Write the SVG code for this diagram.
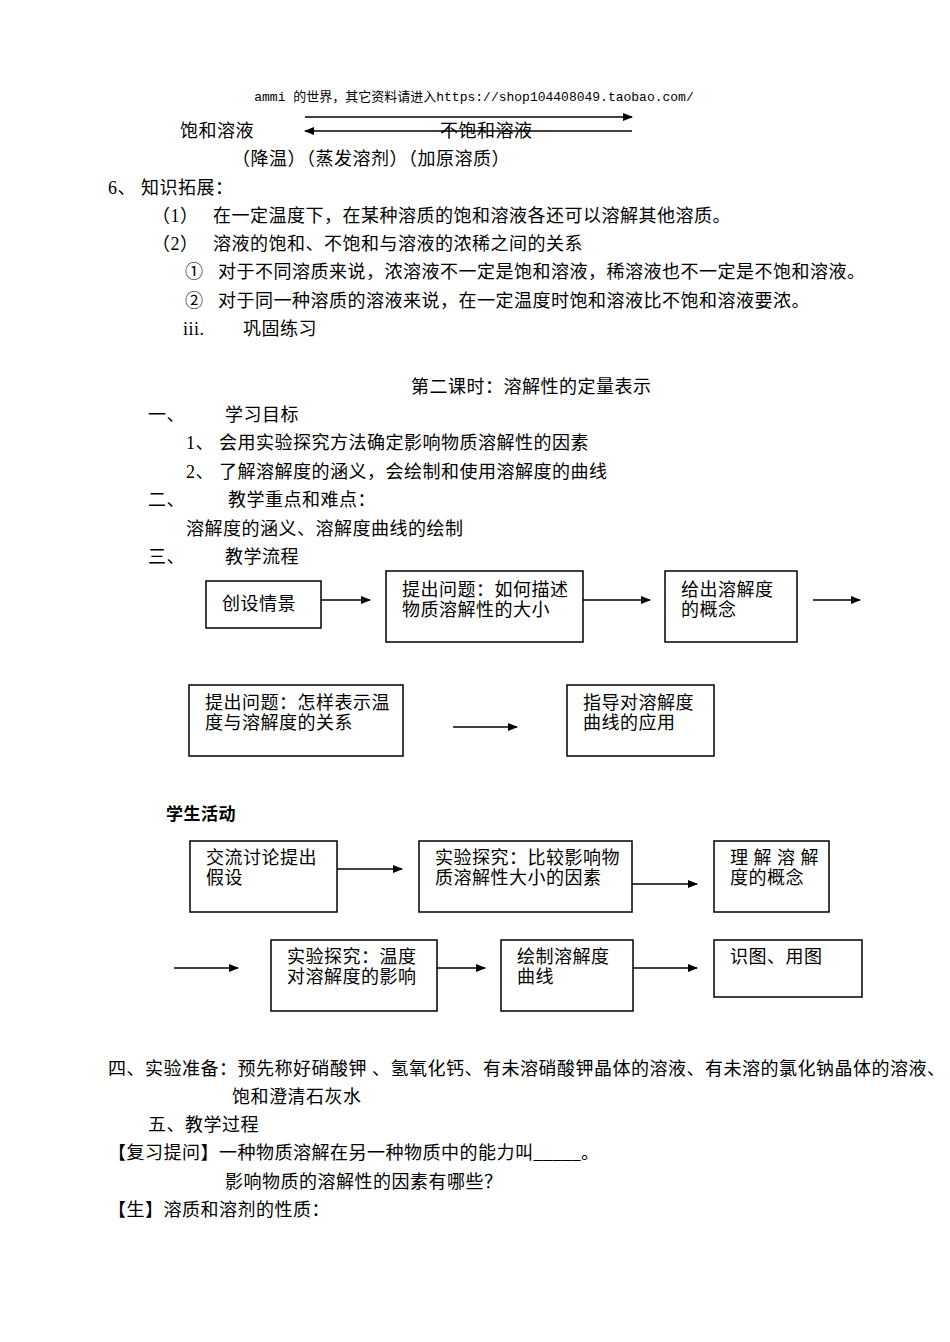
<svg xmlns="http://www.w3.org/2000/svg" width="950" height="1342" viewBox="0 0 950 1342">
<defs>
<marker id="ah" markerWidth="10" markerHeight="8" refX="9" refY="4" orient="auto" markerUnits="userSpaceOnUse"><path d="M0,0 L10,4 L0,8 Z" fill="#000"/></marker>
<style>
text{font-family:"Liberation Serif","Noto Sans CJK SC",serif;font-size:18px;letter-spacing:0.5px;fill:#000}
.hd{font-size:13px;letter-spacing:0;font-family:"Liberation Mono","Noto Sans CJK SC",monospace}
.b{font-weight:bold;font-family:"Liberation Sans","Noto Sans CJK SC",sans-serif;font-size:17px}
rect{fill:#fff;stroke:#000;stroke-width:1.5}
line{stroke:#000;stroke-width:1.5}
</style>
</defs>
<rect x="0" y="0" width="950" height="1342" style="stroke:none"/>
<text class="hd" x="474" y="101" text-anchor="middle">ammi 的世界，其它资料请进入https://shop104408049.taobao.com/</text>
<text x="180" y="137">饱和溶液</text>
<text x="440" y="137">不饱和溶液</text>
<text x="232" y="165">（降温）（蒸发溶剂）（加原溶质）</text>
<text x="108" y="194">6、 知识拓展：</text>
<text x="152" y="222">（1）</text><text x="213" y="222">在一定温度下，在某种溶质的饱和溶液各还可以溶解其他溶质。</text>
<text x="152" y="250">（2）</text><text x="213" y="250">溶液的饱和、不饱和与溶液的浓稀之间的关系</text>
<text x="185" y="278">①</text><text x="218" y="278">对于不同溶质来说，浓溶液不一定是饱和溶液，稀溶液也不一定是不饱和溶液。</text>
<text x="185" y="307">②</text><text x="218" y="307">对于同一种溶质的溶液来说，在一定温度时饱和溶液比不饱和溶液要浓。</text>
<text x="183" y="335">iii.</text><text x="243" y="335">巩固练习</text>
<text x="411" y="393">第二课时：溶解性的定量表示</text>
<text x="148" y="421">一、</text><text x="225" y="421">学习目标</text>
<text x="186" y="449">1、 会用实验探究方法确定影响物质溶解性的因素</text>
<text x="186" y="478">2、 了解溶解度的涵义，会绘制和使用溶解度的曲线</text>
<text x="148" y="506">二、</text><text x="228" y="506">教学重点和难点：</text>
<text x="186" y="535">溶解度的涵义、溶解度曲线的绘制</text>
<text x="148" y="563">三、</text><text x="225" y="563">教学流程</text>
<g id="n1"><rect x="206" y="581" width="115" height="47"/><text x="222" y="610">创设情景</text></g>
<g id="n2"><rect x="386" y="571" width="197" height="71"/><text x="402" y="596">提出问题：如何描述</text><text x="402" y="616">物质溶解性的大小</text></g>
<g id="n3"><rect x="665" y="571" width="132" height="71"/><text x="681" y="596">给出溶解度</text><text x="681" y="616">的概念</text></g>
<g id="n4"><rect x="189" y="685" width="214" height="71"/><text x="205" y="709">提出问题：怎样表示温</text><text x="205" y="729">度与溶解度的关系</text></g>
<g id="n5"><rect x="567" y="685" width="147" height="71"/><text x="583" y="709">指导对溶解度</text><text x="583" y="729">曲线的应用</text></g>
<text class="b" x="166" y="820">学生活动</text>
<g id="s1"><rect x="190" y="841" width="147" height="71"/><text x="206" y="864">交流讨论提出</text><text x="206" y="884">假设</text></g>
<g id="s2"><rect x="419" y="841" width="213" height="71"/><text x="435" y="864">实验探究：比较影响物</text><text x="435" y="884">质溶解性大小的因素</text></g>
<g id="s3"><rect x="714" y="841" width="115" height="71"/><text x="730" y="864">理 解 溶 解</text><text x="730" y="884">度的概念</text></g>
<g id="s4"><rect x="271" y="940" width="166" height="71"/><text x="287" y="963">实验探究：温度</text><text x="287" y="983">对溶解度的影响</text></g>
<g id="s5"><rect x="501" y="940" width="132" height="71"/><text x="517" y="963">绘制溶解度</text><text x="517" y="983">曲线</text></g>
<g id="s6"><rect x="714" y="940" width="148" height="57"/><text x="730" y="963">识图、用图</text></g>
<g id="connectors">
<line x1="305" y1="117" x2="632" y2="117" marker-end="url(#ah)"/>
<line x1="632" y1="131" x2="305" y2="131" marker-end="url(#ah)"/>
<line x1="321" y1="600" x2="370" y2="600" marker-end="url(#ah)"/>
<line x1="583" y1="600" x2="650" y2="600" marker-end="url(#ah)"/>
<line x1="813" y1="600" x2="860" y2="600" marker-end="url(#ah)"/>
<line x1="453" y1="727" x2="517" y2="727" marker-end="url(#ah)"/>
<line x1="337" y1="869" x2="402" y2="869" marker-end="url(#ah)"/>
<line x1="632" y1="884" x2="697" y2="884" marker-end="url(#ah)"/>
<line x1="174" y1="968" x2="238" y2="968" marker-end="url(#ah)"/>
<line x1="437" y1="968" x2="485" y2="968" marker-end="url(#ah)"/>
<line x1="633" y1="968" x2="697" y2="968" marker-end="url(#ah)"/>
</g>
<text x="108" y="1075">四、实验准备：预先称好硝酸钾 、氢氧化钙、有未溶硝酸钾晶体的溶液、有未溶的氯化钠晶体的溶液、</text>
<text x="232" y="1103">饱和澄清石灰水</text>
<text x="148" y="1131">五、教学过程</text>
<text x="108" y="1159">【复习提问】一种物质溶解在另一种物质中的能力叫_____。</text>
<text x="225" y="1188">影响物质的溶解性的因素有哪些？</text>
<text x="108" y="1216">【生】溶质和溶剂的性质：</text>
</svg>
